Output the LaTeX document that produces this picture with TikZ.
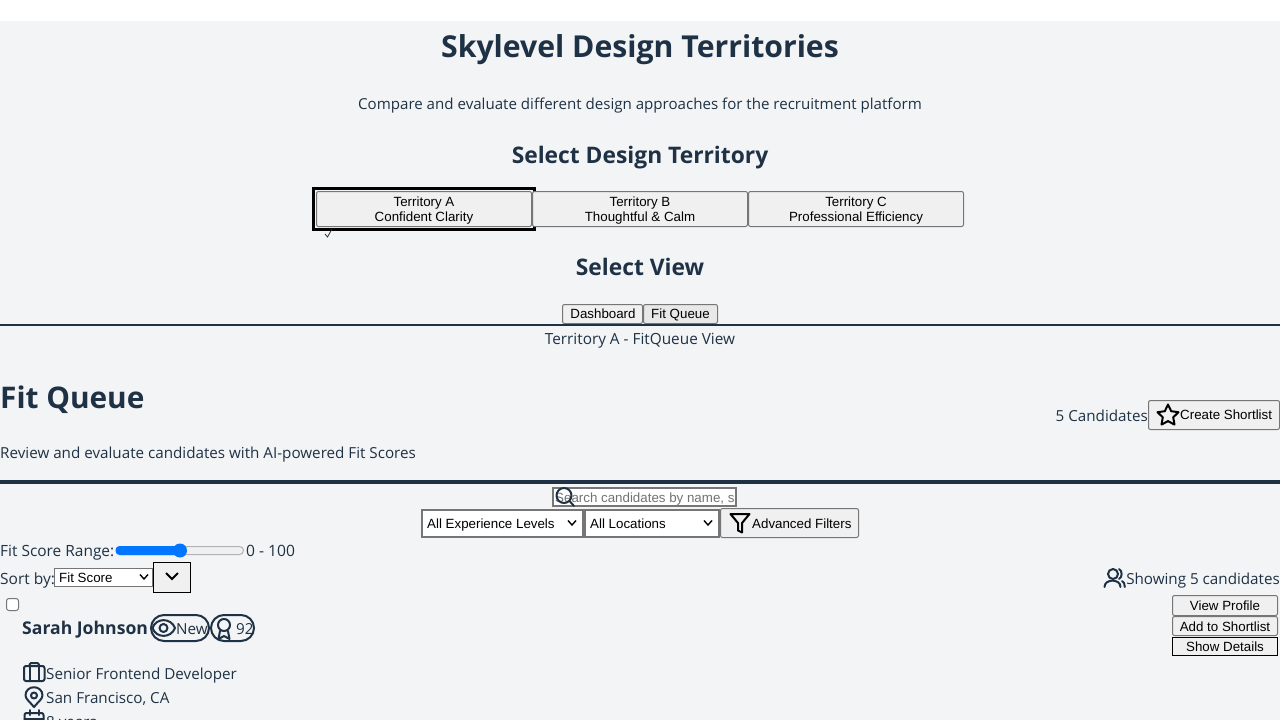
\documentclass[tikz,border=0pt]{standalone}
\usepackage{fontspec}
\setmainfont{Open Sans}
\newfontfamily\arialfont{Liberation Sans}
\usepackage{xcolor}
\usepackage{tikz}
\usetikzlibrary{positioning}
\definecolor{page}{HTML}{F3F4F6}
\definecolor{ink}{HTML}{1F3245}
\definecolor{btnface}{HTML}{F0F0F0}
\definecolor{btnedge}{HTML}{767676}
\definecolor{accent}{HTML}{0075FF}
\newcommand{\fs}[1]{\fontsize{#1}{#1}\selectfont}

\begin{document}
\begin{tikzpicture}[
  x=1pt,y=-1pt,
  label/.style={inner sep=0,anchor=base west,text=ink,font=\fs{15.2}},
  labelr/.style={label,anchor=base east},
  heading/.style={inner sep=0,anchor=base,text=ink,font=\bfseries\fs{#1}},
  btntext/.style={inner sep=0,anchor=base,text=black,font=\arialfont\fs{13.33}},
  btn/.style={rounded corners=2,draw=btnedge,fill=btnface,line width=1},
  field/.style={draw=btnedge,fill=white,line width=2},
  icon/.style={draw=ink,line width=2,line cap=round,line join=round},
  blackicon/.style={draw=black,line width=2,line cap=round,line join=round},
  pill/.style={rounded corners=13,draw=ink,line width=2}]

  \useasboundingbox (0,0) rectangle (1280,720);
  \clip (0,0) rectangle (1280,720);
  \fill[white] (0,0) rectangle (1280,21);
  \fill[page] (0,21) rectangle (1280,720);

  % ------------------- header ----------------------
  \node[heading=30.2] (title) at (640,57) {Skylevel Design Territories};
  \node[label,anchor=base,font=\fs{15.1}] (subtitle) at (640,109) {Compare and evaluate different design approaches for the recruitment platform};
  \node[heading=22.8] (selterritory) at (640,163) {Select Design Territory};

  \draw[black,line width=3] (313.5,188.8) rectangle (534.5,229.2);
  \draw[btn] (316.5,191.5) rectangle (531.5,226.5);
  \draw[btn] (532.5,191.5) rectangle (747.5,226.5);
  \draw[btn] (748.5,191.5) rectangle (963.5,226.5);
  \node[btntext] (terra) at (424,206) {Territory A};
  \node[btntext] (terrasub) at (424,221) {Confident Clarity};
  \node[btntext] (terrb) at (640,206) {Territory B};
  \node[btntext] (terrbsub) at (640,221) {Thoughtful \& Calm};
  \node[btntext] (terrc) at (856,206) {Territory C};
  \node[btntext] (terrcsub) at (856,221) {Professional Efficiency};
  \draw[ink,line width=0.8] (325,234) -- (327.5,237) -- (332,229);

  \node[heading=22.8] (selview) at (640,275) {Select View};
  \draw[btn] (562.5,304.5) rectangle (642.5,323.5);
  \draw[btn,fill=black!9] (643.5,304.5) rectangle (717.5,323.5);
  \node[btntext] (dashboard) at (603,318) {Dashboard};
  \node[btntext] (fitqueue) at (680.5,318) {Fit Queue};

  \draw[ink,line width=2] (0,325) -- (1280,325);
  \node[label,anchor=base,font=\fs{15.35}] (viewname) at (640,344) {Territory A - FitQueue View};

  % ------------------- queue head ----------------------
  \node[heading=29.8,anchor=base west] (queue) at (0,408) {Fit Queue};
  \node[label] (review) at (0,458) {Review and evaluate candidates with AI-powered Fit Scores};
  \node[labelr] (count) at (1148,421) {5 Candidates};
  \draw[btn] (1148.5,400.5) rectangle (1279.5,429.5);
  \draw[blackicon] (1168,404.5) -- (1171.2,411.2) -- (1178.5,412.2) -- (1173.2,417.3) -- (1174.5,424.6) -- (1168,421.1) -- (1161.5,424.6) -- (1162.8,417.3) -- (1157.5,412.2) -- (1164.8,411.2) -- cycle;
  \node[btntext,anchor=base west] (shortlist) at (1180,419) {Create Shortlist};
  \draw[ink,line width=4] (0,482) -- (1280,482);

  % ------------------- filters ----------------------
  \draw[field] (553,488) rectangle (736,506);
  \begin{scope}
    \clip (555,489) rectangle (734,505);
    \node[btntext,anchor=base west,text=black!55] (search) at (555,502) {Search candidates by name, skills, or title};
  \end{scope}
  \draw[icon] (564,495.5) circle[radius=7.5];
  \draw[icon] (569.5,501) -- (574,506);

  \draw[field] (422,510) rectangle (583,536.5);
  \draw[field] (585,510) rectangle (719,536.5);
  \node[btntext,anchor=base west] (experience) at (427,528) {All Experience Levels};
  \node[btntext,anchor=base west] (location) at (590,528) {All Locations};
  \draw[black,line width=1.4] (568,520.5) -- (572,525) -- (576,520.5);
  \draw[black,line width=1.4] (704,520.5) -- (708,525) -- (712,520.5);
  \draw[btn] (720.5,508.5) rectangle (858.5,537.5);
  \draw[blackicon] (730.5,514) -- (749.5,514) -- (742,523) -- (742,532.5) -- (738,530.5) -- (738,523) -- cycle;
  \node[btntext,anchor=base west] (advanced) at (752,528) {Advanced Filters};

  % ------------------- range and sort ----------------------
  \node[label,font=\fs{15.45}] (range) at (0,556) {Fit Score Range:};
  \draw[rounded corners=4,draw=black!30,fill=btnface,line width=1] (116.5,546.5) rectangle (243.5,554.5);
  \draw[rounded corners=4,fill=accent,draw=none] (115.5,546) rectangle (180,555);
  \fill[accent] (180,550.5) circle[radius=7];
  \node[label,font=\fs{15.6}] (rangeval) at (246,556) {0 - 100};

  \node[label,font=\fs{15.5}] (sortby) at (0,584) {Sort by:};
  \draw[field,line width=1] (54.5,568.5) rectangle (152.5,586.5);
  \node[btntext,anchor=base west] (sortfield) at (59,582) {Fit Score};
  \draw[black,line width=1.4] (140,574.5) -- (144,579) -- (148,574.5);
  \draw[draw=black,fill=btnface,line width=1] (153.5,562.5) rectangle (190.5,592.5);
  \draw[black,line width=2] (166,573) -- (172,579) -- (178,573);

  \draw[icon] (1113,574) circle[radius=5];
  \draw[icon] (1104.5,587) .. controls (1104.5,578.5) and (1120.5,578.5) .. (1120.5,587);
  \draw[icon] (1119,569) .. controls (1122.5,570.5) and (1122.5,577.5) .. (1119,579);
  \draw[icon] (1122,581) .. controls (1124,582) and (1124.8,584) .. (1124.8,587);
  \node[labelr] (showing) at (1280,584) {Showing 5 candidates};

  % ------------------- candidate ----------------------
  \draw[rounded corners=2.5,draw=btnedge,fill=white,line width=1] (6.5,598.5) rectangle (18.5,610.5);
  \node[heading=17.6,anchor=base west] (name) at (22,634.5) {Sarah Johnson};

  \draw[pill] (151,615) rectangle (209,641);
  \draw[icon] (152.5,628) .. controls (156,617.5) and (171,617.5) .. (175,628) .. controls (171,638.5) and (156,638.5) .. (152.5,628) -- cycle;
  \draw[icon] (163.5,628) circle[radius=4];
  \node[label] (status) at (176,634) {New};

  \draw[pill] (211,615) rectangle (254,641);
  \draw[icon] (224,625) circle[radius=6];
  \draw[icon] (220,631) -- (218.5,639) -- (224,636) -- (229.5,639) -- (228,631);
  \node[label] (score) at (236,634) {92};

  \draw[icon,rounded corners=2] (24,666) rectangle (44.5,681);
  \draw[icon,rounded corners=1.5] (29.5,666) -- (29.5,663) -- (39,663) -- (39,666);
  \draw[icon] (29.5,666) -- (29.5,681) (39,666) -- (39,681);
  \node[label] (role) at (46,679) {Senior Frontend Developer};

  \draw[icon] (34,707) .. controls (30,702) and (25.5,699) .. (25.5,695.5) .. controls (25.5,684.5) and (42.5,684.5) .. (42.5,695.5) .. controls (42.5,699) and (38,702) .. (34,707) -- cycle;
  \draw[icon] (34,695.5) circle[radius=3];
  \node[label] (place) at (46,703) {San Francisco, CA};

  \draw[icon,rounded corners=2] (24.5,713) rectangle (43.5,730);
  \draw[icon] (29.5,710) -- (29.5,715) (38.5,710) -- (38.5,715) (24.5,719) -- (43.5,719);
  \node[label] (years) at (46,727) {8 years};

  % ------------------- actions ----------------------
  \draw[btn] (1172.5,595.5) rectangle (1277.5,615.5);
  \draw[btn] (1172.5,616.5) rectangle (1277.5,635.5);
  \draw[draw=black,fill=btnface,line width=1] (1172.5,637.5) rectangle (1277.5,655.5);
  \node[btntext] (profile) at (1225,610) {View Profile};
  \node[btntext] (addshort) at (1225,631) {Add to Shortlist};
  \node[btntext] (details) at (1225,651) {Show Details};
\end{tikzpicture}
\end{document}
